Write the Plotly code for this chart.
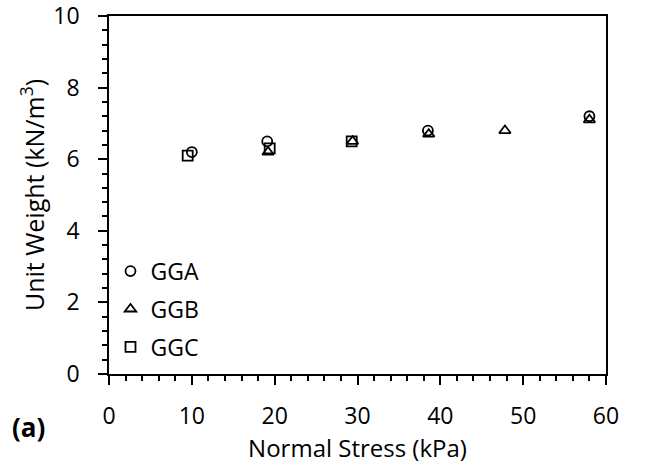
import plotly.graph_objects as go

gga_x = [10.0, 19.1, 38.5, 58.0]
gga_y = [6.2, 6.5, 6.8, 7.2]
ggb_x = [19.2, 29.4, 38.6, 47.8, 58.0]
ggb_y = [6.2, 6.5, 6.7, 6.8, 7.1]
ggc_x = [9.5, 19.4, 29.3]
ggc_y = [6.1, 6.3, 6.5]
x_ticks = [0, 10, 20, 30, 40, 50, 60]
y_ticks = [0, 2, 4, 6, 8, 10]

FONT = "Open Sans"

fig = go.Figure()
series = [
    ("GGA", gga_x, gga_y, "circle-open", 10),
    ("GGB", ggb_x, ggb_y, "triangle-up-open", 10),
    ("GGC", ggc_x, ggc_y, "square-open", 10),
]
for name, xs, ys, sym, sz in series:
    fig.add_trace(go.Scatter(
        x=xs, y=ys, mode="markers", name=name, legendgroup=name,
        marker=dict(symbol=sym, size=sz, color="black", line=dict(color="black", width=1.8)),
    ))

axis_common = dict(
    showline=True, linecolor="black", linewidth=1.5, mirror=True,
    ticks="outside", ticklen=9, tickwidth=1.5, tickcolor="black",
    showgrid=False, zeroline=False, automargin=False,
    ticklabeloverflow="allow",
    tickfont=dict(family=FONT, size=23, color="black"),
)
fig.update_xaxes(
    range=[0, 60], tickmode="array", tickvals=x_ticks, ticktext=[str(v) for v in x_ticks],
    ticklabelstandoff=12,
    minor=dict(dtick=2, tick0=0, ticks="outside", ticklen=5, tickwidth=1.5, tickcolor="black"),
    title=dict(text="Normal Stress (kPa)", font=dict(family=FONT, size=24, color="black"), standoff=4),
    **axis_common,
)
fig.update_yaxes(
    range=[0, 10], tickmode="array", tickvals=y_ticks, ticktext=[str(v) for v in y_ticks],
    ticklabelstandoff=14,
    minor=dict(dtick=0.4, tick0=0, ticks="outside", ticklen=5, tickwidth=1.5, tickcolor="black"),
    title=dict(text="Unit Weight (kN/m<sup>3</sup>)", font=dict(family=FONT, size=25, color="black"), standoff=2),
    **axis_common,
)
fig.add_annotation(
    text="<b>(a)</b>", xref="paper", yref="paper", x=-0.2, y=-0.148,
    xanchor="left", yanchor="middle", showarrow=False,
    font=dict(family=FONT, size=26, color="black"),
)
fig.update_layout(
    width=648, height=469,
    margin=dict(l=109, r=42, t=16, b=95),
    paper_bgcolor="white", plot_bgcolor="white",
    showlegend=True,
    legend=dict(
        x=0.003, y=0.015, xanchor="left", yanchor="bottom",
        bgcolor="rgba(0,0,0,0)", tracegroupgap=5,
        font=dict(family=FONT, size=23, color="black"),
        itemwidth=30,
    ),
)
fig.write_html("out.html", config={"displayModeBar": False},
               post_script="document.body.style.margin='0';")
